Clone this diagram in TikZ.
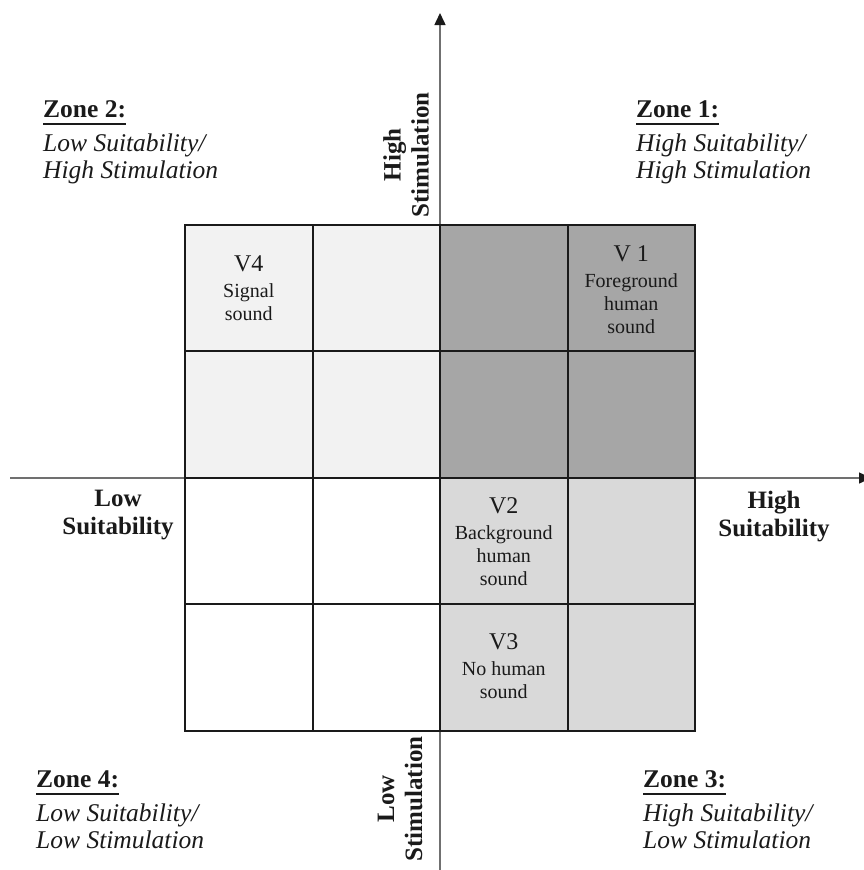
\documentclass[tikz,border=0pt]{standalone}
\usepackage{fontspec}
\setmainfont{Liberation Serif}
\usetikzlibrary{arrows.meta,positioning}
\definecolor{ink}{HTML}{1A1A1A}
\definecolor{axisgrey}{HTML}{707070}
\definecolor{zlight}{HTML}{F2F2F2}
\definecolor{zdark}{HTML}{A6A6A6}
\definecolor{zmid}{HTML}{D9D9D9}
\newcommand{\vtag}[1]{{\fontsize{24}{23}\selectfont #1}}
\tikzset{
  every node/.style={text=ink},
  cell/.style={draw=ink, line width=2pt, minimum width=127.5pt, minimum height=126.5pt, inner sep=0pt, outer sep=0pt},
  axis/.style={draw=axisgrey, line width=1.5pt, -{Triangle[length=12pt,width=11pt,color=ink]}},
  cellnote/.style={font=\fontsize{20}{23}\selectfont, align=center, inner sep=0pt, anchor=north},
  zonehead/.style={font=\fontsize{25.5}{27}\selectfont\bfseries, inner sep=0pt, anchor=base west},
  zonebody/.style={font=\fontsize{25.5}{27}\selectfont\itshape, align=left, inner sep=0pt, anchor=north west},
  underl/.style={draw=ink, line width=2.2pt},
  axislab/.style={font=\fontsize{25}{28}\selectfont\bfseries, align=center, inner sep=0pt},
}
\begin{document}
\begin{tikzpicture}[x=1pt, y=-1pt]
  \useasboundingbox (0,0) rectangle (863,870);

  % ---- axes -------------------------------------------------------------
  \coordinate (xl) at (10,478);
  \coordinate (xr) at (871,478);
  \coordinate (yb) at (440,872);
  \coordinate (yt) at (440,13);
  \draw[axis] (xl) -- (xr);
  \draw[axis] (yb) -- (yt);

  % ---- 4x4 grid ---------------------------------------------------------
  \foreach \r/\c/\tone in {1/1/zlight, 1/2/zlight, 1/3/zdark, 1/4/zdark,
                           2/1/zlight, 2/2/zlight, 2/3/zdark, 2/4/zdark,
                           3/1/white,  3/2/white,  3/3/zmid,  3/4/zmid,
                           4/1/white,  4/2/white,  4/3/zmid,  4/4/zmid}
    \node[cell, fill=\tone] (c\r\c) at ({185+127.5*(\c-0.5)}, {224.5+126.5*(\r-0.5)}) {};

  % ---- cell texts -------------------------------------------------------
  \node[cellnote] (v1) at ([yshift=-20.5pt]c14.north) {\vtag{V 1}\\[3pt]Foreground\\human\\sound};
  \node[cellnote] (v4) at ([yshift=-30.5pt]c11.north) {\vtag{V4}\\[3pt]Signal\\sound};
  \node[cellnote] (v2) at ([yshift=-19.5pt]c33.north) {\vtag{V2}\\[3pt]Background\\human\\sound};
  \node[cellnote] (v3) at ([yshift=-29pt]c43.north) {\vtag{V3}\\[3pt]No human\\sound};

  % ---- axis labels ------------------------------------------------------
  \node[axislab, rotate=90] (hstim) at (406,155) {High\\Stimulation};
  \node[axislab, rotate=90] (lstim) at (400,799) {Low\\Stimulation};
  \node[axislab, anchor=north] (lsuit) at (118,490) {Low\\Suitability};
  \node[axislab, anchor=north] (hsuit) at (774,491) {High\\Suitability};

  % ---- zones ------------------------------------------------------------
  \node[zonehead] (z1h) at (636,117) {Zone 1:};
  \node[zonebody] (z1b) at ([yshift=-17pt]z1h.base west) {High Suitability/\\High Stimulation};
  \node[zonehead] (z2h) at (43,117) {Zone 2:};
  \node[zonebody] (z2b) at ([yshift=-17pt]z2h.base west) {Low Suitability/\\High Stimulation};
  \node[zonehead] (z3h) at (643,787) {Zone 3:};
  \node[zonebody] (z3b) at ([yshift=-17pt]z3h.base west) {High Suitability/\\Low Stimulation};
  \node[zonehead] (z4h) at (36,787) {Zone 4:};
  \node[zonebody] (z4b) at ([yshift=-17pt]z4h.base west) {Low Suitability/\\Low Stimulation};
  \foreach \z in {z1h,z2h,z3h,z4h}
    \draw[underl] ([yshift=-7pt]\z.base west) -- ([yshift=-7pt]\z.base east);
\end{tikzpicture}
\end{document}
